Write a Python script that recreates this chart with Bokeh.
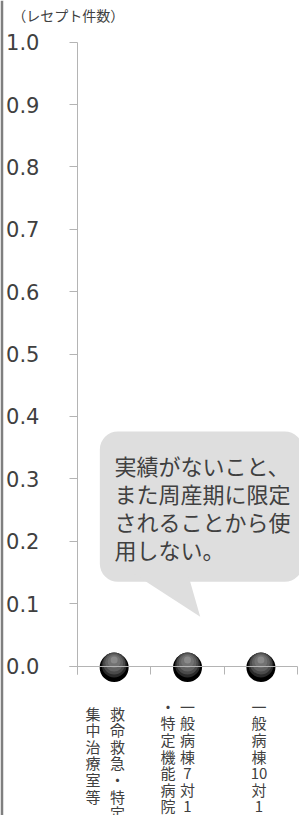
import re
from bokeh.plotting import figure
from bokeh.models import Range1d, LinearAxis, FixedTicker, PrintfTickFormatter, ColumnDataSource
from bokeh.core.properties import value
from bokeh.transform import dodge
from bokeh.embed import file_html
from bokeh.resources import INLINE

# ---- data ----
categories = ["救命救急・特定集中治療室等", "一般病棟7対1・特定機能病院", "一般病棟10対1"]
label_columns = [
    ["救命救急・特定", "集中治療室等"],
    ["一般病棟7対1", "・特定機能病院"],
    ["一般病棟10対1"],
]
values = [0.0, 0.0, 0.0]
y_ticks = [0.0, 0.1, 0.2, 0.3, 0.4, 0.5, 0.6, 0.7, 0.8, 0.9, 1.0]
unit_label = "（レセプト件数）"
note_lines = ["実績がないこと、", "また周産期に限定", "されることから使", "用しない。"]

# ---- figure ----
JP = value("Noto Sans CJK JP")
TXT = "#404040"
AX = "#b4b4b4"
p = figure(width=299, height=815, x_range=Range1d(-1.008, 3.026), y_range=Range1d(-0.2396, 1.0667),
           output_backend="svg", toolbar_location=None, x_axis_type=None, y_axis_type=None,
           min_border=0, min_border_left=3)
p.border_fill_color = "#7f7f7f"
p.background_fill_color = "white"
p.outline_line_color = None

px = 1.0 / 623.9  # one pixel in y data units

yaxis = LinearAxis(fixed_location=0, bounds=(-8 * px, 1.0), ticker=FixedTicker(ticks=y_ticks),
                   formatter=PrintfTickFormatter(format="%.1f"))
yaxis.axis_line_color = AX
yaxis.major_tick_line_color = AX
yaxis.major_tick_out = 8
yaxis.major_tick_in = 0
yaxis.minor_tick_line_color = None
yaxis.major_label_standoff = 30
yaxis.major_label_text_font = "DejaVu Sans"
yaxis.major_label_text_font_size = "21px"
yaxis.major_label_text_color = TXT
p.add_layout(yaxis, "left")

n = len(categories)
xaxis = LinearAxis(fixed_location=0, bounds=(-0.106, float(n)), ticker=FixedTicker(ticks=list(range(n + 1))))
xaxis.axis_line_color = AX
xaxis.major_tick_line_color = AX
xaxis.major_tick_out = 8
xaxis.major_tick_in = 0
xaxis.minor_tick_line_color = None
xaxis.major_label_text_color = None
p.add_layout(xaxis, "below")

# ---- note bubble ----
p.quad(left=[0.305], right=[3.07], top=[0.376], bottom=[0.135], fill_color="#dedede",
       line_color=None, border_radius=18)
p.patch(x=[0.743, 1.50, 1.673], y=[0.150, 0.150, 0.079], fill_color="#dedede", line_color=None)
p.text(x=[0.504], y=[0.255], text=["\n".join(note_lines)], text_font=JP, text_font_size="22px",
       text_color=TXT, text_align="left", text_baseline="middle", text_line_height=0.87)

# ---- unit label ----
p.text(x=[-0.89], y=[1.043], text=[unit_label], text_font=JP, text_font_size="14px",
       text_color=TXT, text_align="left", text_baseline="middle")

# ---- spheres (values) ----
centers = [i + 0.5 for i in range(n)]
src = ColumnDataSource(dict(x=centers, y=values))
layers = [(29, -1.5, "#000000"), (25, 1.0, "#2a2a2a"), (22, 2.5, "#4a4a4a"),
          (18, 3.5, "#616161"), (13, 4.5, "#727272"), (7, 6.0, "#8a8a8a")]
for size, off, col in layers:
    p.scatter(x="x", y=dodge("y", off * px, range=p.y_range), size=size, source=src,
              fill_color=col, line_color=None)

# ---- vertical category labels ----
col_dx = [[0.044, -0.288], [0.0, -0.265], [-0.026]]
col_top = [-0.0588, -0.0477, -0.0477]
lx, ly, lt = [], [], []
for i, cols in enumerate(label_columns):
    for j, s in enumerate(cols):
        lx.append(centers[i] + col_dx[i][j])
        ly.append(col_top[i])
        lt.append("\n".join(re.findall(r"\d+|.", s)))
p.text(x=lx, y=ly, text=lt, text_font=JP, text_font_size="15px", text_color=TXT,
       text_align="center", text_baseline="top", text_line_height=0.79)

open("out.html", "w").write(file_html(p, INLINE))
